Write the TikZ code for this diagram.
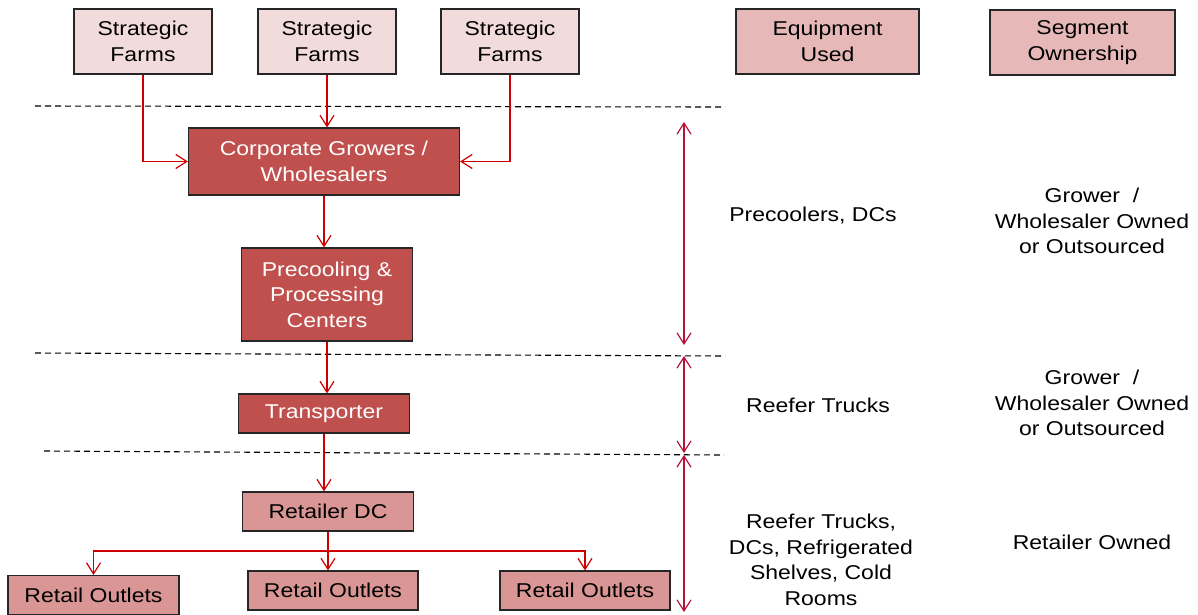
\documentclass[tikz,border=0pt]{standalone}
\usepackage{fontspec}
\setmainfont{Liberation Sans}[FakeStretch=1.15]
\usetikzlibrary{arrows.meta}
\definecolor{farmfill}{HTML}{F2DCDB}
\definecolor{headfill}{HTML}{E6B9B8}
\definecolor{darkfill}{HTML}{C0504D}
\definecolor{midfill}{HTML}{D99694}
\definecolor{flowred}{HTML}{CC0000}
\definecolor{spanred}{HTML}{B5123A}
\definecolor{edge}{HTML}{262626}
\tikzset{
  x=1pt, y=-1pt,
  txt/.style={font=\fontsize{20}{25.5}\selectfont, align=center, inner sep=0pt},
  box/.style={txt, draw=edge, line width=1.2pt, minimum width=#1},
  farm/.style={box=138pt, fill=farmfill, minimum height=65pt},
  head/.style={box=#1, fill=headfill, minimum height=65pt},
  darkbox/.style={box=#1, fill=darkfill, text=white},
  midbox/.style={box=171pt, fill=midfill, minimum height=39pt},
  flow/.style={draw=flowred, line width=1.4pt, -{Straight Barb[length=11pt,width=14pt,line width=1.2pt]}},
  flowline/.style={draw=flowred, line width=1.4pt},
  span/.style={draw=spanred, line width=1.4pt, {Straight Barb[length=11pt,width=14pt,line width=1.2pt]}-{Straight Barb[length=11pt,width=14pt,line width=1.2pt]}},
  sep/.style={draw=black, line width=1.1pt, dash pattern=on 6pt off 4pt}
}
\begin{document}
\begin{tikzpicture}
\useasboundingbox (0,0) rectangle (1198,614);

% segment separators
\draw[sep] (35,106) -- (725,107);
\draw[sep] (35,353) -- (725,356);
\draw[sep] (44,451) -- (724,455);

% header boxes
\node[farm] (f1) at (143,41.5) {Strategic\\Farms};
\node[farm] (f2) at (327,41.5) {Strategic\\Farms};
\node[farm] (f3) at (510,41.5) {Strategic\\Farms};
\node[head=183pt] (eq) at (827.5,41.5) {Equipment\\Used};
\node[head=185pt] (own) at (1082.5,42.5) {Segment\\Ownership};

% supply chain
\node[darkbox=271pt, minimum height=67pt] (corp) at (324,161.5) {Corporate Growers /\\Wholesalers};
\node[darkbox=171pt, minimum height=93pt] (pre) at (327,294.5) {Precooling \&\\Processing\\Centers};
\node[darkbox=171pt, minimum height=39pt] (tr) at (324,413.5) {Transporter};
\node[midbox] (dc) at (328,511.5) {Retailer DC};
\node[midbox] (o1) at (93.5,595) {Retail Outlets};
\node[midbox, minimum width=170pt] (o2) at (333,590.5) {Retail Outlets};
\node[midbox, minimum width=170pt] (o3) at (585,590.5) {Retail Outlets};

% flows
\draw[flow] (f1.south) |- (corp.west);
\draw[flow] (f2.south) -- (f2.south |- corp.north);
\draw[flow] (f3.south) |- (corp.east);
\draw[flow] (corp.south) -- (corp.south |- pre.north);
\draw[flow] (pre.south) -- (pre.south |- tr.north);
\draw[flow] (tr.south) -- (tr.south |- dc.north);
\coordinate (j) at (328,551);
\draw[flowline] (dc.south) -- (j);
\draw[flow] (j) -| (o1.north);
\draw[flow] (j) -- (j |- o2.north);
\draw[flow] (j) -| (o3.north);

% segment spans
\coordinate (s1a) at (684,122);
\coordinate (s1b) at (684,345);
\coordinate (s2a) at (684,356);
\coordinate (s2b) at (684,453);
\coordinate (s3a) at (684,455);
\coordinate (s3b) at (684,612);
\draw[span] (s1a) -- (s1b);
\draw[span] (s2a) -- (s2b);
\draw[span] (s3a) -- (s3b);

% equipment and ownership per segment
\node[txt] (e1) at (813,216) {Precoolers, DCs};
\node[txt] (w1) at (1092,221) {Grower~ /\\Wholesaler Owned\\or Outsourced};
\node[txt] (e2) at (818,405) {Reefer Trucks};
\node[txt] (w2) at (1092,403) {Grower~ /\\Wholesaler Owned\\or Outsourced};
\node[txt] (e3) at (821,560) {Reefer Trucks,\\DCs, Refrigerated\\Shelves, Cold\\Rooms};
\node[txt] (w3) at (1092,542) {Retailer Owned};
\end{tikzpicture}
\end{document}
